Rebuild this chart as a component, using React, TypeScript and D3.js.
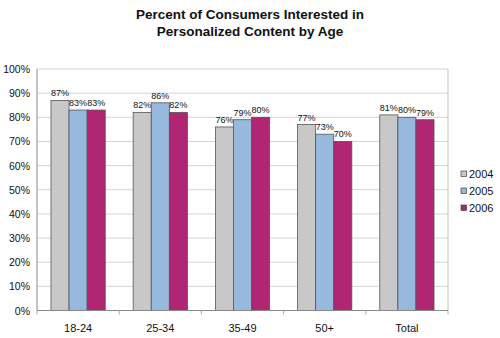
import React from "react";
import * as d3 from "d3";

const categories = ["18-24", "25-34", "35-49", "50+", "Total"];
const seriesNames = ["2004", "2005", "2006"];
const values2004 = [87, 82, 76, 77, 81];
const values2005 = [83, 86, 79, 73, 80];
const values2006 = [83, 82, 80, 70, 79];
const yTicks = [0, 10, 20, 30, 40, 50, 60, 70, 80, 90, 100];
const colors = ["#c8c8c8", "#96b9dd", "#b02672"];

const W = 500;
const H = 338;
const plot = { left: 37, right: 448, top: 69, bottom: 310.5 };

export default function App() {
  const series = [values2004, values2005, values2006];
  const x0 = d3
    .scaleBand<string>()
    .domain(categories)
    .range([plot.left, plot.right])
    .paddingInner(0.34)
    .paddingOuter(0.17);
  const x1 = d3.scaleBand<string>().domain(seriesNames).range([0, x0.bandwidth()]).padding(0);
  const y = d3.scaleLinear().domain([0, 100]).range([plot.bottom, plot.top]);
  const step = (plot.right - plot.left) / categories.length;
  const font = "Liberation Sans, Arial, sans-serif";

  return (
    <svg
      width={W}
      height={H}
      style={{ position: "absolute", left: 0, top: 0, background: "#fff" }}
      fontFamily={font}
    >
      <text x={250} y={19} textAnchor="middle" fontSize={13.5} fontWeight="bold" fill="#111">
        Percent of Consumers Interested in
      </text>
      <text x={250} y={36} textAnchor="middle" fontSize={13.5} fontWeight="bold" fill="#111">
        Personalized Content by Age
      </text>

      {/* gridlines */}
      {yTicks.map((t) => (
        <line
          key={"g" + t}
          x1={plot.left}
          x2={plot.right}
          y1={y(t)}
          y2={y(t)}
          stroke="#d4d4d4"
          strokeWidth={1}
        />
      ))}
      <line x1={plot.right} x2={plot.right} y1={plot.top} y2={plot.bottom} stroke="#c4c4c4" />

      {/* bars */}
      {categories.map((c, i) =>
        series.map((vals, s) => {
          const bx = (x0(c) ?? 0) + (x1(seriesNames[s]) ?? 0);
          const bw = x1.bandwidth();
          return (
            <g key={c + s}>
              <rect
                x={bx}
                y={y(vals[i])}
                width={bw}
                height={plot.bottom - y(vals[i])}
                fill={colors[s]}
                stroke="#555"
                strokeWidth={0.8}
              />
              <text
                x={bx + bw / 2}
                y={y(vals[i]) - 4}
                textAnchor="middle"
                fontSize={9}
                fill="#111"
              >
                {vals[i]}%
              </text>
            </g>
          );
        })
      )}

      {/* y axis */}
      <line x1={plot.left} x2={plot.left} y1={plot.top} y2={plot.bottom} stroke="#888" />
      <line x1={plot.left} x2={plot.right} y1={plot.bottom} y2={plot.bottom} stroke="#888" />
      {yTicks.map((t) => (
        <text
          key={"t" + t}
          x={30}
          y={y(t) + 4}
          textAnchor="end"
          fontSize={10.5}
          fill="#111"
        >
          {t}%
        </text>
      ))}
      {/* x ticks */}
      {d3.range(categories.length + 1).map((i) => (
        <line
          key={"xt" + i}
          x1={plot.left + i * step}
          x2={plot.left + i * step}
          y1={plot.bottom}
          y2={plot.bottom + 4}
          stroke="#aaa"
        />
      ))}
      {categories.map((c) => (
        <text
          key={"c" + c}
          x={(x0(c) ?? 0) + x0.bandwidth() / 2}
          y={332}
          textAnchor="middle"
          fontSize={11}
          fill="#111"
        >
          {c}
        </text>
      ))}

      {/* legend */}
      {seriesNames.map((n, s) => (
        <g key={"l" + n}>
          <rect
            x={461}
            y={171 + s * 17}
            width={5.5}
            height={5.5}
            fill={colors[s]}
            stroke="#444"
            strokeWidth={0.7}
          />
          <text x={469} y={178 + s * 17} fontSize={11} fill="#111">
            {n}
          </text>
        </g>
      ))}
    </svg>
  );
}
